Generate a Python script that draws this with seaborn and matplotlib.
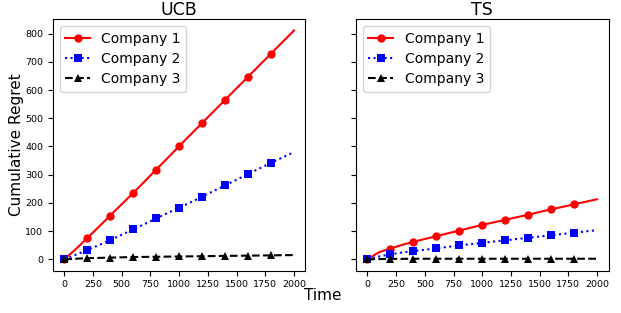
import numpy as np
import pandas as pd
import matplotlib
matplotlib.use("Agg")
import matplotlib.pyplot as plt
import seaborn as sns

# waktu (langkah)
time = [0, 100, 200, 300, 400, 500, 600, 700, 800, 900, 1000,
        1100, 1200, 1300, 1400, 1500, 1600, 1700, 1800, 1900, 2000]

# regret kumulatif UCB
ucb_c1 = [0, 36, 75, 115, 155, 195, 235, 276, 318, 359, 401,
          442, 483, 524, 565, 606, 647, 688, 729, 770, 811]
ucb_c2 = [0, 16, 33, 50, 68, 87, 106, 125, 145, 164, 183,
          202, 222, 242, 262, 282, 302, 322, 342, 361, 380]
ucb_c3 = [0, 2, 4, 5, 6, 7, 8, 8.5, 9, 9.5, 10,
          10.5, 11, 11.5, 12, 12.5, 13, 13.5, 14, 14.5, 15]

# regret kumulatif TS
ts_c1 = [0, 25, 38, 51, 62, 72, 82, 92, 102, 112, 122,
         131, 140, 149, 158, 168, 177, 186, 195, 204, 213]
ts_c2 = [0, 10, 18, 24, 29, 34, 39, 44, 49, 54, 58,
         63, 67, 72, 76, 81, 85, 90, 94, 99, 103]
ts_c3 = [0, 1, 1.5, 1.5, 2, 2, 2, 2, 2, 2, 2,
         2, 2, 2, 2, 2, 2, 2, 2, 2, 2]

labels = ["Company 1", "Company 2", "Company 3"]
styles = [("red", "-", "o"), ("blue", ":", "s"), ("black", "--", "^")]
marks = list(range(0, 19, 2))

plt.rcParams['font.family'] = ['DejaVu Sans']

fig, axes = plt.subplots(1, 2, figsize=(6.21, 3.13), dpi=100, sharey=True)
fig.subplots_adjust(left=0.085, right=0.98, top=0.939, bottom=0.135, wspace=0.2)

data = {"UCB": [ucb_c1, ucb_c2, ucb_c3], "TS": [ts_c1, ts_c2, ts_c3]}

for ax, (name, series) in zip(axes, data.items()):
    for vals, lab, (c, ls, m) in zip(series, labels, styles):
        sns.lineplot(x=time, y=vals, color=c, linestyle=ls, marker=m,
                     markevery=marks, markersize=6, markeredgewidth=0,
                     linewidth=1.5, label=lab, ax=ax)
    ax.set_title(name, fontsize=12.5, pad=3)
    ax.tick_params(labelsize=6.8)
    ax.set_xticks([0, 250, 500, 750, 1000, 1250, 1500, 1750, 2000])
    ax.legend(loc="upper left", fontsize=10, frameon=True, labelspacing=0.45,
              handlelength=1.8)

axes[0].set_ylabel("Cumulative Regret", fontsize=11, labelpad=1)
fig.text(0.52, 0.04, "Time", fontsize=11, ha="center")

fig.savefig("out.png", dpi=100)
